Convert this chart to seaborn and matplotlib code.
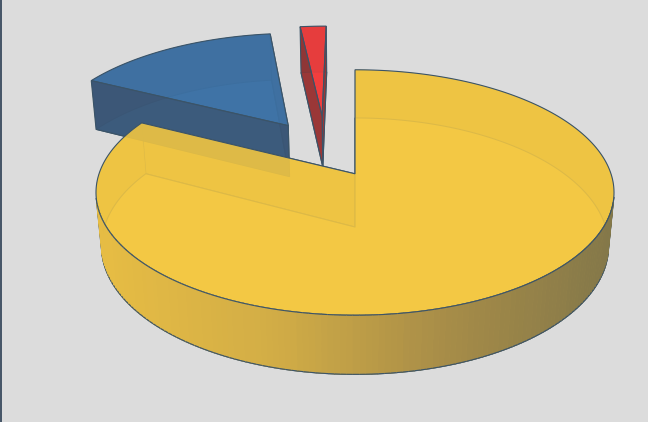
import numpy as np
import matplotlib
matplotlib.use('Agg')
import matplotlib.pyplot as plt
from matplotlib.patches import Polygon
from matplotlib.colors import to_rgba
import seaborn as sns

# Slice data (percent), laid out counter-clockwise from 12 o'clock
segments = ['Red', 'Blue', 'Yellow']
shares = [2.0, 15.5, 82.5]
top_colors = ['#f23c3c', '#3d72a6', '#f4c842']
radial_colors = ['#8e3434', '#3a5676', '#c9a43a']
side_ramps = [['#e04040', '#7a2e2e'],
              ['#4a7fb5', '#2c4a6a'],
              ['#e6bc44', '#d2ad46', '#a88d48', '#847849']]
explode = [(0.535, 105.0), (0.51, 123.0), (0.0, 0.0)]  # distance, direction (deg)

START = 90.0
BG = '#dcdcdc'
EDGE = '#3b5468'
ALPHA = 0.88

# Simple perspective camera (pixel space output)
ELEV = np.radians(30)
DIST = 5.8
FOCAL = 1454.0
HEIGHT = 0.24
X0, Y0 = 355.0, 227.0
cam = np.array([0.0, -DIST * np.cos(ELEV), DIST * np.sin(ELEV)])


def to_screen(pts):
    pts = np.asarray(pts, dtype=float)
    x, y, z = pts[:, 0], pts[:, 1], pts[:, 2]
    depth = DIST + y * np.cos(ELEV) - z * np.sin(ELEV)
    up = y * np.sin(ELEV) + z * np.cos(ELEV)
    return np.column_stack([X0 + FOCAL * x / depth, Y0 - FOCAL * up / depth]), depth.mean()


def facing(pts, normal):
    c = np.asarray(pts, dtype=float).mean(axis=0)
    return np.dot(normal, cam - c) > 1e-9


sns.set_theme(style='white')

fig = plt.figure(figsize=(6.48, 4.22), dpi=100)
fig.patch.set_facecolor(BG)
ax = fig.add_axes([0, 0, 1, 1])
ax.set_facecolor(BG)
ax.set_xlim(0, 648)
ax.set_ylim(422, 0)
ax.axis('off')

faces = []  # dicts with keys: front, depth, xy, color, kind, lines
bounds = START + np.cumsum([0] + shares) / 100.0 * 360.0
x_left, x_right = X0 - FOCAL / DIST, X0 + FOCAL / DIST

for i, name in enumerate(segments):
    a0, a1 = bounds[i], bounds[i + 1]
    d, ang = explode[i]
    cx, cy = d * np.cos(np.radians(ang)), d * np.sin(np.radians(ang))
    th = np.radians(np.linspace(a0, a1, max(3, int((a1 - a0) / 1.2) + 1)))
    ox, oy = cx + np.cos(th), cy + np.sin(th)

    # top and bottom faces
    for z, nz in [(HEIGHT, 1.0), (0.0, -1.0)]:
        pts = [(cx, cy, z)] + [(px, py, z) for px, py in zip(ox, oy)]
        xy, dep = to_screen(pts)
        faces.append(dict(front=facing(pts, [0, 0, nz]), depth=dep, xy=xy,
                          color=top_colors[i], kind='plane', lines=[]))

    # radial walls
    for k, a, off in [(0, a0, -90.0), (-1, a1, 90.0)]:
        pts = [(cx, cy, 0), (cx, cy, HEIGHT), (ox[k], oy[k], HEIGHT), (ox[k], oy[k], 0)]
        n = [np.cos(np.radians(a + off)), np.sin(np.radians(a + off)), 0]
        xy, dep = to_screen(pts)
        faces.append(dict(front=facing(pts, n), depth=dep, xy=xy,
                          color=radial_colors[i], kind='plane', lines=[]))

    # curved outer wall: visible part in shaded strips, hidden part as whole runs
    ramp = sns.blend_palette(side_ramps[i], 101)
    fronts = []
    for k in range(len(th) - 1):
        mid = 0.5 * (th[k] + th[k + 1])
        pts = [(ox[k], oy[k], 0), (ox[k], oy[k], HEIGHT),
               (ox[k + 1], oy[k + 1], HEIGHT), (ox[k + 1], oy[k + 1], 0)]
        fronts.append(facing(pts, [np.cos(mid), np.sin(mid), 0]))

    k = 0
    while k < len(fronts):
        j = k
        while j + 1 < len(fronts) and fronts[j + 1] == fronts[k]:
            j += 1
        idx = np.arange(k, j + 2)
        if fronts[k]:
            for m in range(k, j + 1):
                pts = [(ox[m], oy[m], 0), (ox[m], oy[m], HEIGHT),
                       (ox[m + 1], oy[m + 1], HEIGHT), (ox[m + 1], oy[m + 1], 0)]
                xy, dep = to_screen(pts)
                t = np.clip((xy[:, 0].mean() - x_left) / (x_right - x_left), 0, 1)
                lines = [xy[[0, 3]], xy[[1, 2]]]
                if m == k:
                    lines.append(xy[[0, 1]])
                if m == j:
                    lines.append(xy[[3, 2]])
                faces.append(dict(front=True, depth=dep, xy=xy, color=ramp[int(t * 100)],
                                  kind='strip', lines=lines))
        else:
            pts = [(ox[m], oy[m], HEIGHT) for m in idx] + \
                  [(ox[m], oy[m], 0) for m in idx[::-1]]
            xy, dep = to_screen(pts)
            faces.append(dict(front=False, depth=dep, xy=xy, color=radial_colors[i],
                              kind='hidden', lines=[]))
        k = j + 1

# painter's order: hidden faces first, then visible ones, far to near
faces.sort(key=lambda f: (f['front'], -f['depth']))
for zo, f in enumerate(faces):
    if f['kind'] == 'plane':
        ax.add_patch(Polygon(f['xy'], closed=True, facecolor=to_rgba(f['color'], ALPHA),
                             edgecolor=EDGE, linewidth=0.8, zorder=2 * zo))
    elif f['kind'] == 'strip':
        ax.add_patch(Polygon(f['xy'], closed=True, facecolor=f['color'],
                             edgecolor=f['color'], linewidth=0.6, zorder=2 * zo))
    else:
        ax.add_patch(Polygon(f['xy'], closed=True, facecolor=to_rgba(f['color'], ALPHA),
                             edgecolor='none', linewidth=0, zorder=2 * zo))
    for seg in f['lines']:
        ax.plot(seg[:, 0], seg[:, 1], color=EDGE, linewidth=0.8,
                solid_capstyle='round', zorder=2 * zo + 1)

fig.add_artist(plt.Line2D([0.001, 0.001], [0, 1], transform=fig.transFigure,
                          color='#2b3d52', linewidth=1.2))

fig.savefig('out.png', dpi=100, facecolor=BG)
plt.close(fig)
